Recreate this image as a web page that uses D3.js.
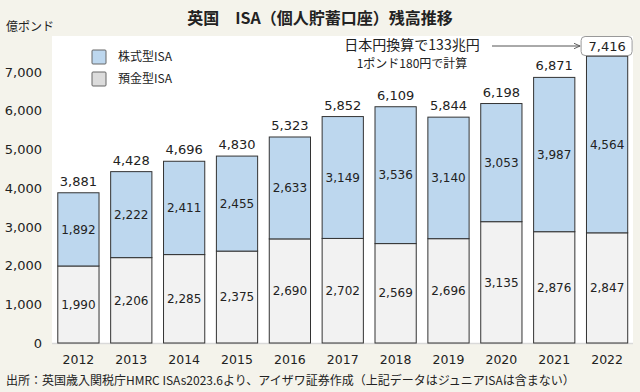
<!DOCTYPE html>
<html><head><meta charset="utf-8">
<script src="https://cdn.jsdelivr.net/npm/d3@7"></script>
<style>
html,body{margin:0;padding:0;background:#f4f3eb;}
text{font-family:"DejaVu Sans","Noto Sans CJK JP",sans-serif;fill:#222;}
.jp{font-family:"Noto Sans CJK JP",sans-serif;}
</style></head>
<body>
<svg id="c" width="640" height="392"></svg>
<script>
const years = ["2012","2013","2014","2015","2016","2017","2018","2019","2020","2021","2022"];
const deposit = [1990,2206,2285,2375,2690,2702,2569,2696,3135,2876,2847];
const stocks = [1892,2222,2411,2455,2633,3149,3536,3140,3053,3987,4564];
const totals = [3881,4428,4696,4830,5323,5852,6109,5844,6198,6871,7416];
const yTicks = [0,1000,2000,3000,4000,5000,6000,7000];
const seriesNames = ["株式型ISA","預金型ISA"];

const svg = d3.select("#c");
svg.append("rect").attr("width",640).attr("height",392).attr("fill","#f4f3eb");
// plot panel
svg.append("rect").attr("x",52).attr("y",36).attr("width",581).attr("height",308).attr("fill","#ffffff");

const x = d3.scaleBand().domain(years).range([52.5,633]).paddingInner(0.22).paddingOuter(0.1);
const y = d3.scaleLinear().domain([0,8000]).range([343,33.4]);
const fmt = d3.format(",");

// baseline
svg.append("line").attr("x1",52).attr("x2",633).attr("y1",343.5).attr("y2",343.5).attr("stroke","#d9d9d9").attr("stroke-width",1.5);

// y axis
const ya = svg.append("g").attr("transform","translate(45,0)")
  .call(d3.axisLeft(y).tickValues(yTicks).tickFormat(fmt).tickSize(0));
ya.select(".domain").remove();
ya.selectAll("text").attr("font-size",13).attr("fill","#222").attr("dx",0)
  .style("font-family","DejaVu Sans");

// x axis
const xa = svg.append("g").attr("transform","translate(0,352)")
  .call(d3.axisBottom(x).tickSize(0));
xa.select(".domain").remove();
xa.selectAll("text").attr("font-size",12.5).attr("fill","#222").attr("dy","0.71em")
  .style("font-family","DejaVu Sans");

const bw = x.bandwidth();
const stroke = "#333";
const g = svg.append("g");
years.forEach((yr,i)=>{
  const x0 = x(yr);
  g.append("rect").attr("x",x0).attr("width",bw)
    .attr("y",y(deposit[i])).attr("height",y(0)-y(deposit[i]))
    .attr("fill","#f2f2f2").attr("stroke",stroke).attr("stroke-width",1);
  g.append("rect").attr("x",x0).attr("width",bw)
    .attr("y",y(deposit[i]+stocks[i])).attr("height",y(deposit[i])-y(deposit[i]+stocks[i]))
    .attr("fill","#bdd7ee").attr("stroke",stroke).attr("stroke-width",1);
  g.append("text").attr("x",x0+bw/2).attr("y",(y(0)+y(deposit[i]))/2)
    .attr("text-anchor","middle").attr("dy","0.35em").attr("font-size",12).text(fmt(deposit[i]));
  g.append("text").attr("x",x0+bw/2).attr("y",(y(deposit[i])+y(deposit[i]+stocks[i]))/2)
    .attr("text-anchor","middle").attr("dy","0.35em").attr("font-size",12).text(fmt(stocks[i]));
  const top = y(deposit[i]+stocks[i]);
  if (i < years.length-1) {
    g.append("text").attr("x",x0+bw/2).attr("y",top-7)
      .attr("text-anchor","middle").attr("font-size",13).text(fmt(totals[i]));
  }
});

// last total boxed
const li = years.length-1;
const lx = x(years[li])+bw/2;
const ly = 46;
svg.append("rect").attr("x",lx-26).attr("y",ly-9.5).attr("width",51).attr("height",19).attr("rx",4)
  .attr("fill","#fff").attr("stroke","#999");
svg.append("text").attr("x",lx).attr("y",ly).attr("dy","0.36em").attr("text-anchor","middle")
  .attr("font-size",13).text(fmt(totals[li]));

// annotation arrow
svg.append("defs").append("marker").attr("id","ah").attr("viewBox","0 0 10 10")
  .attr("refX",9).attr("refY",5).attr("markerWidth",7).attr("markerHeight",7).attr("orient","auto")
  .append("path").attr("d","M0,1 L9,5 L0,9").attr("fill","none").attr("stroke","#555").attr("stroke-width",1.3);
svg.append("line").attr("x1",492).attr("x2",lx-27).attr("y1",ly).attr("y2",ly)
  .attr("stroke","#555").attr("stroke-width",1).attr("marker-end","url(#ah)");
svg.append("text").attr("class","jp").attr("x",412).attr("y",44.5).attr("dy","0.36em").attr("text-anchor","middle")
  .attr("font-size",14).text("日本円換算で133兆円");
svg.append("text").attr("class","jp").attr("x",412).attr("y",64).attr("dy","0.36em").attr("text-anchor","middle")
  .attr("font-size",12).text("1ポンド180円で計算");

// legend
const legColors = ["#bdd7ee","#dcdcdc"];
seriesNames.forEach((n,i)=>{
  svg.append("rect").attr("x",92).attr("y",50+i*22).attr("width",14).attr("height",14)
    .attr("fill",legColors[i]).attr("stroke","#666").attr("rx",1);
  svg.append("text").attr("class","jp").attr("x",118).attr("y",57+i*22).attr("dy","0.36em")
    .attr("font-size",12).text(n);
});

// title
svg.append("text").attr("class","jp").attr("x",320).attr("y",18).attr("dy","0.36em").attr("text-anchor","middle")
  .attr("font-size",16).attr("font-weight","bold").text("英国　ISA（個人貯蓄口座）残高推移");
svg.append("text").attr("class","jp").attr("x",6).attr("y",27).attr("dy","0.36em")
  .attr("font-size",12).text("億ポンド");
svg.append("text").attr("class","jp").attr("x",6).attr("y",381).attr("dy","0.36em")
  .attr("font-size",12).text("出所：英国歳入関税庁HMRC ISAs2023.6より、アイザワ証券作成（上記データはジュニアISAは含まない）");
</script>
</body></html>
